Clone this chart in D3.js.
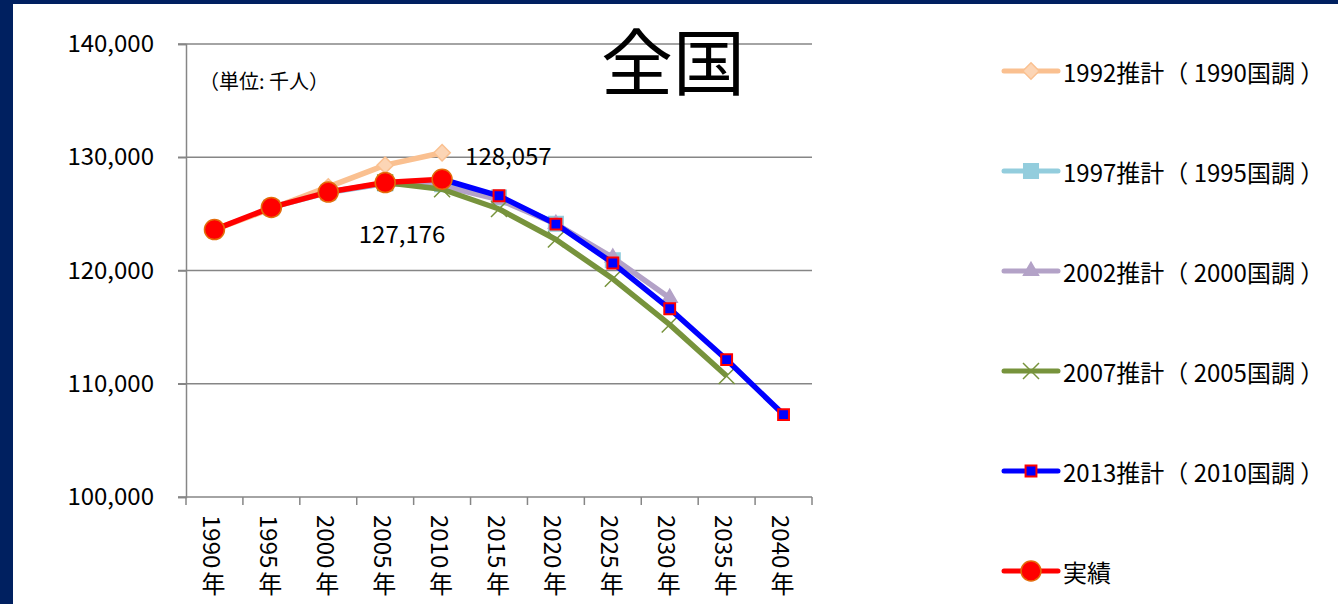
<!DOCTYPE html>
<html>
<head>
<meta charset="utf-8">
<script src="https://cdn.jsdelivr.net/npm/d3@7"></script>
<style>
  body { margin: 0; background: #fff; }
  svg text { font-family: "Noto Sans CJK JP", "Noto Sans", sans-serif; fill: #000; }
</style>
</head>
<body>
<div id="chart"></div>
<script>
// categories
const years = ["1990", "1995", "2000", "2005", "2010", "2015", "2020", "2025", "2030", "2035", "2040"];
const yTicks = [100000, 110000, 120000, 130000, 140000];

// series values (thousand persons), null = no value
const est1992 = [123611, 125457, 127385, 129304, 130397, null, null, null, null, null, null];
const est1997 = [null, 125570, 126892, 127684, 127623, 126444, 124133, 120913, null, null, null];
const est2002 = [null, null, 126926, 127708, 127473, 126266, 124107, 121136, 117580, null, null];
const est2007 = [null, null, null, 127768, 127176, 125430, 122735, 119270, 115224, 110679, null];
const est2013 = [null, null, null, null, 128057, 126597, 124100, 120659, 116618, 112124, 107276];
const actual  = [123611, 125570, 126926, 127768, 128057, null, null, null, null, null, null];

const seriesNames = ["1992推計（ 1990国調 ）", "1997推計（ 1995国調 ）", "2002推計（ 2000国調 ）",
                     "2007推計（ 2005国調 ）", "2013推計（ 2010国調 ）", "実績"];

const series = [
  {name: seriesNames[0], values: est1992, color: "#FAC090", marker: "diamond", fill: "#FCD5B5", stroke: "#FAC090"},
  {name: seriesNames[1], values: est1997, color: "#93CDDD", marker: "square", fill: "#93CDDD", stroke: "#93CDDD"},
  {name: seriesNames[2], values: est2002, color: "#B3A2C7", marker: "triangle", fill: "#B3A2C7", stroke: "#B3A2C7"},
  {name: seriesNames[3], values: est2007, color: "#77933C", marker: "cross", fill: "none", stroke: "#77933C"},
  {name: seriesNames[4], values: est2013, color: "#0000FF", marker: "bsquare", fill: "#0000FF", stroke: "#FF0000"},
  {name: seriesNames[5], values: actual, color: "#FF0000", marker: "circle", fill: "#FF0000", stroke: "#E46C0A"}
];

const width = 1338, height = 604;

const svg = d3.select('#chart').append('svg')
  .attr('width', width)
  .attr('height', height);

// navy frame on the left/top
svg.append('rect').attr('width', width).attr('height', height).attr('fill', '#002060');
svg.append('rect').attr('x', 13).attr('y', 4).attr('width', width - 13).attr('height', height - 4).attr('fill', '#fff');

const x = d3.scaleBand().domain(years).range([186, 812]);
const y = d3.scaleLinear().domain([100000, 140000]).range([497, 44]);
const cx = d => x(d) + x.bandwidth() / 2;

// gridlines
svg.append('g').selectAll('line')
  .data(yTicks)
  .join('line')
  .attr('x1', 178).attr('x2', x.range()[1])
  .attr('y1', d => y(d)).attr('y2', d => y(d))
  .attr('stroke', '#868686').attr('stroke-width', 1.5);

// y axis
const yAxis = svg.append('g')
  .attr('transform', `translate(${x.range()[0]},0)`)
  .call(d3.axisLeft(y).tickValues(yTicks).tickSize(8).tickPadding(24).tickFormat(d3.format(',')));
yAxis.select('.domain').attr('stroke', '#868686').attr('stroke-width', 1.5);
yAxis.selectAll('.tick line').attr('stroke', '#868686').attr('stroke-width', 1.5);
yAxis.selectAll('.tick text')
  .style('font-family', '"Noto Sans CJK JP", sans-serif')
  .attr('font-size', 24).attr('fill', '#000');

// x ticks at category boundaries
const bounds = years.map(d => x(d)).concat([x.range()[1]]);
svg.append('g').selectAll('line')
  .data(bounds)
  .join('line')
  .attr('x1', d => d).attr('x2', d => d)
  .attr('y1', y(100000)).attr('y2', y(100000) + 8)
  .attr('stroke', '#868686').attr('stroke-width', 1.5);

// x labels: digits rotated, 年 upright
const xl = svg.append('g').selectAll('g')
  .data(years)
  .join('g');
xl.append('text')
  .attr('transform', d => `translate(${cx(d) - 1},${y(100000) + 18}) rotate(90)`)
  .attr('dominant-baseline', 'central')
  .attr('font-size', 24)
  .text(d => d);
xl.append('text')
  .attr('x', d => cx(d) - 1)
  .attr('y', y(100000) + 85)
  .attr('text-anchor', 'middle')
  .attr('dominant-baseline', 'central')
  .attr('font-size', 24)
  .text('年');

// lines
const line = d3.line()
  .defined(d => d.v != null)
  .x(d => cx(d.year))
  .y(d => y(d.v));

const symbolPath = {
  diamond: d3.symbol(d3.symbolDiamond2, 170)(),
  square: d3.symbol(d3.symbolSquare2, 270)(),
  triangle: d3.symbol(d3.symbolTriangle2, 160)(),
  bsquare: d3.symbol(d3.symbolSquare2, 150)(),
  circle: d3.symbol(d3.symbolCircle, 314)()
};

function drawMarker(g, s, px, py) {
  if (s.marker === 'cross') {
    g.append('path')
      .attr('d', `M${px - 8},${py - 8}L${px + 8},${py + 8}M${px - 8},${py + 8}L${px + 8},${py - 8}`)
      .attr('stroke', s.stroke).attr('stroke-width', 1.5).attr('fill', 'none');
  } else {
    g.append('path')
      .attr('d', symbolPath[s.marker])
      .attr('transform', `translate(${px},${py})`)
      .attr('fill', s.fill)
      .attr('stroke', s.stroke)
      .attr('stroke-width', s.marker === 'bsquare' ? 2 : 1.5);
  }
}

series.forEach(s => {
  const pts = years.map((yr, i) => ({year: yr, v: s.values[i]}));
  const g = svg.append('g');
  g.append('path')
    .datum(pts)
    .attr('d', line)
    .attr('fill', 'none')
    .attr('stroke', s.color)
    .attr('stroke-width', 5.5)
    .attr('stroke-linejoin', 'round');
  pts.filter(p => p.v != null).forEach(p => drawMarker(g, s, cx(p.year), y(p.v)));
});

// data labels
svg.append('text')
  .attr('x', cx('2010') + 23).attr('y', y(128057) - 25)
  .attr('dominant-baseline', 'central')
  .attr('font-size', 24)
  .text(d3.format(',')(128057));
svg.append('text')
  .attr('x', cx('2010') - 40).attr('y', y(127176) + 43)
  .attr('text-anchor', 'middle')
  .attr('dominant-baseline', 'central')
  .attr('font-size', 24)
  .text(d3.format(',')(127176));

// unit note
svg.append('text')
  .attr('x', 199).attr('y', 80)
  .attr('dominant-baseline', 'central')
  .attr('font-size', 20)
  .text('（単位: 千人）');

// title
svg.append('text')
  .attr('x', 673).attr('y', 57)
  .attr('text-anchor', 'middle')
  .attr('dominant-baseline', 'central')
  .attr('font-size', 72)
  .text('全国');

// legend
const legend = svg.append('g').selectAll('g')
  .data(series)
  .join('g')
  .attr('transform', (d, i) => `translate(1004,${71 + i * 100})`);
legend.append('line')
  .attr('x1', 0).attr('x2', 54)
  .attr('stroke', d => d.color)
  .attr('stroke-width', 5)
  .attr('stroke-linecap', 'round');
legend.each(function(d) { drawMarker(d3.select(this), d, 27, 0); });
legend.append('text')
  .attr('x', 59)
  .attr('dominant-baseline', 'central')
  .attr('font-size', 24)
  .text(d => d.name);
</script>
</body>
</html>
